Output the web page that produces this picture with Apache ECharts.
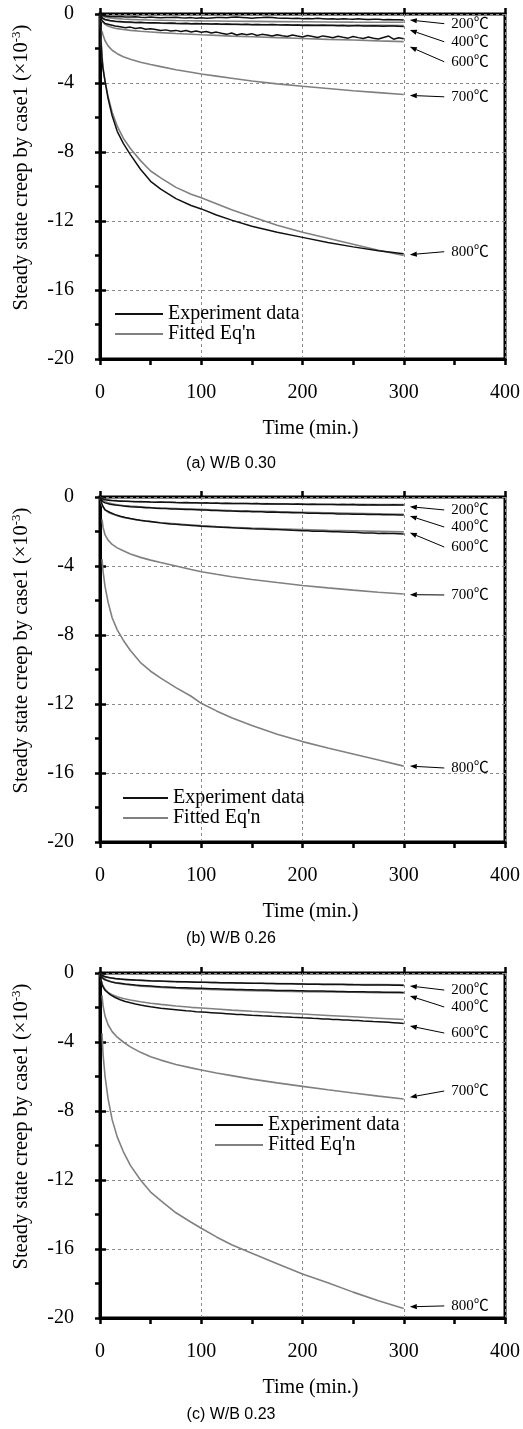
<!DOCTYPE html>
<html><head><meta charset="utf-8">
<script src="https://cdn.jsdelivr.net/npm/echarts@6/dist/echarts.min.js"></script>
<style>html,body{margin:0;padding:0;background:#fff}#c{width:523px;height:1429px}</style>
</head><body><div id="c"></div>
<script>
// time axis for fitted curves and smooth experimental curves
const T = [0,1,2,3,5,8,12,17,23,30,40,50,60,75,90,100,115,130,150,175,200,225,250,275,300];
// time axis for noisy experimental curves (rows of 8)
const TE = [0,1,2,3,5,10,15,20,
  25,30,35,40,45,50,55,60,
  65,70,75,80,85,90,95,100,
  105,110,115,120,125,130,135,140,
  145,150,155,160,165,170,175,180,
  185,190,195,200,205,210,215,220,
  225,230,235,240,245,250,255,260,
  265,270,275,280,285,290,295,300];

const xTicks = [0,100,200,300,400];
const yTicks = [0,-4,-8,-12,-16,-20];
const captions = ['(a) W/B 0.30','(b) W/B 0.26','(c) W/B 0.23'];
const tempLabels = ['200℃','400℃','600℃','700℃','800℃'];

// ---------- (a) W/B 0.30 ----------
const a200e = [0,-0.05,-0.08,-0.1,-0.12,-0.15,-0.16,-0.14,
  -0.17,-0.18,-0.16,-0.19,-0.2,-0.18,-0.2,-0.22,
  -0.2,-0.21,-0.19,-0.22,-0.23,-0.21,-0.24,-0.22,
  -0.25,-0.23,-0.21,-0.2,-0.22,-0.19,-0.18,-0.2,
  -0.22,-0.24,-0.22,-0.21,-0.19,-0.2,-0.23,-0.25,
  -0.24,-0.26,-0.25,-0.27,-0.26,-0.28,-0.25,-0.27,
  -0.29,-0.28,-0.3,-0.27,-0.29,-0.3,-0.28,-0.3,
  -0.32,-0.3,-0.31,-0.33,-0.32,-0.34,-0.33,-0.35];
const a400e = [0,-0.12,-0.2,-0.26,-0.32,-0.38,-0.42,-0.44,
  -0.46,-0.47,-0.49,-0.48,-0.5,-0.51,-0.5,-0.52,
  -0.53,-0.52,-0.54,-0.55,-0.53,-0.56,-0.55,-0.57,
  -0.56,-0.58,-0.57,-0.59,-0.58,-0.6,-0.59,-0.61,
  -0.6,-0.62,-0.61,-0.63,-0.62,-0.61,-0.63,-0.64,
  -0.63,-0.65,-0.64,-0.66,-0.65,-0.67,-0.66,-0.65,
  -0.67,-0.66,-0.68,-0.67,-0.69,-0.68,-0.67,-0.69,
  -0.7,-0.68,-0.69,-0.71,-0.7,-0.69,-0.71,-0.72];
const a600e = [0,-0.25,-0.38,-0.45,-0.55,-0.62,-0.7,-0.74,
  -0.8,-0.76,-0.84,-0.8,-0.88,-0.85,-0.9,-0.96,
  -0.92,-0.98,-0.95,-1.02,-0.96,-1.04,-0.99,-1.06,
  -1.02,-1.1,-1.05,-1.12,-1.18,-1.1,-1.22,-1.15,
  -1.2,-1.14,-1.25,-1.18,-1.22,-1.28,-1.2,-1.26,
  -1.3,-1.22,-1.28,-1.33,-1.25,-1.3,-1.36,-1.27,
  -1.32,-1.38,-1.29,-1.35,-1.4,-1.3,-1.37,-1.42,
  -1.33,-1.4,-1.45,-1.36,-1.28,-1.46,-1.38,-1.44];
const a800e = [0,-1.6,-2.6,-3.2,-3.9,-4.9,-5.9,-6.8,-7.5,-8.15,-9.0,-9.7,-10.15,-10.7,-11.1,-11.3,-11.65,-11.95,-12.3,-12.65,-12.95,-13.25,-13.5,-13.72,-13.9];
const a200f = [0,-0.08,-0.12,-0.15,-0.18,-0.21,-0.24,-0.27,-0.29,-0.31,-0.33,-0.35,-0.36,-0.38,-0.39,-0.4,-0.41,-0.42,-0.43,-0.44,-0.45,-0.46,-0.47,-0.475,-0.48];
const a400f = [0,-0.15,-0.22,-0.27,-0.33,-0.38,-0.42,-0.45,-0.47,-0.49,-0.51,-0.53,-0.54,-0.56,-0.57,-0.58,-0.59,-0.6,-0.61,-0.62,-0.63,-0.64,-0.65,-0.66,-0.67];
const a600f = [0,-0.3,-0.42,-0.5,-0.6,-0.7,-0.78,-0.85,-0.9,-0.95,-1.0,-1.04,-1.08,-1.13,-1.17,-1.2,-1.24,-1.28,-1.32,-1.37,-1.42,-1.47,-1.51,-1.56,-1.6];
const a700f = [null,null,-1.0,-1.22,-1.55,-1.85,-2.1,-2.3,-2.48,-2.62,-2.8,-2.93,-3.05,-3.23,-3.38,-3.48,-3.6,-3.72,-3.88,-4.05,-4.19,-4.32,-4.45,-4.56,-4.67];
const a800f = [0,-1.4,-2.4,-3.1,-3.9,-4.8,-5.7,-6.5,-7.2,-7.8,-8.5,-9.1,-9.5,-10.05,-10.45,-10.65,-11.0,-11.35,-11.75,-12.25,-12.65,-13.0,-13.35,-13.7,-14.0];
// annotation: label level, arrow target level
const aLabelY = [-0.56,-1.61,-2.77,-4.8,-13.78];
const aTargetY = [-0.35,-0.93,-1.9,-4.72,-13.95];

// ---------- (b) W/B 0.26 ----------
const b200e = [0,-0.06,-0.1,-0.13,-0.16,-0.2,-0.22,-0.24,
  -0.25,-0.26,-0.27,-0.28,-0.27,-0.29,-0.3,-0.29,
  -0.31,-0.3,-0.32,-0.33,-0.32,-0.34,-0.33,-0.35,
  -0.34,-0.36,-0.35,-0.37,-0.36,-0.37,-0.38,-0.37,
  -0.38,-0.39,-0.38,-0.4,-0.39,-0.4,-0.41,-0.4,
  -0.41,-0.42,-0.41,-0.42,-0.43,-0.42,-0.43,-0.44,
  -0.43,-0.44,-0.45,-0.44,-0.45,-0.44,-0.46,-0.45,
  -0.46,-0.45,-0.46,-0.47,-0.46,-0.45,-0.47,-0.46];
const b400e = [0,-0.14,-0.22,-0.28,-0.34,-0.42,-0.47,-0.5,
  -0.53,-0.56,-0.58,-0.6,-0.62,-0.63,-0.65,-0.66,
  -0.67,-0.69,-0.7,-0.71,-0.73,-0.73,-0.74,-0.76,
  -0.76,-0.78,-0.78,-0.79,-0.81,-0.81,-0.82,-0.84,
  -0.83,-0.85,-0.85,-0.86,-0.88,-0.87,-0.88,-0.9,
  -0.9,-0.91,-0.92,-0.92,-0.94,-0.94,-0.94,-0.96,
  -0.96,-0.96,-0.98,-0.98,-0.98,-1.0,-1.0,-1.0,
  -1.02,-1.01,-1.02,-1.03,-1.03,-1.03,-1.05,-1.04];
const b600e = [0,-0.25,-0.4,-0.55,-0.75,-0.9,-1.02,-1.12,
  -1.19,-1.25,-1.3,-1.35,-1.39,-1.42,-1.46,-1.5,
  -1.53,-1.56,-1.58,-1.61,-1.63,-1.65,-1.67,-1.7,
  -1.71,-1.73,-1.74,-1.76,-1.77,-1.78,-1.8,-1.81,
  -1.82,-1.84,-1.85,-1.86,-1.87,-1.89,-1.89,-1.9,
  -1.91,-1.93,-1.94,-1.95,-1.96,-1.98,-1.98,-1.99,
  -2.0,-2.02,-2.02,-2.03,-2.05,-2.05,-2.06,-2.08,
  -2.08,-2.09,-2.11,-2.1,-2.12,-2.12,-2.13,-2.15];
const b200f = [0,-0.05,-0.08,-0.1,-0.13,-0.16,-0.19,-0.21,-0.23,-0.25,-0.27,-0.29,-0.3,-0.32,-0.34,-0.35,-0.36,-0.37,-0.38,-0.4,-0.41,-0.42,-0.43,-0.44,-0.44];
const b400f = [0,-0.1,-0.16,-0.2,-0.27,-0.34,-0.4,-0.45,-0.49,-0.53,-0.57,-0.61,-0.64,-0.67,-0.7,-0.72,-0.75,-0.78,-0.81,-0.85,-0.88,-0.91,-0.94,-0.97,-1.0];
const b600f = [0,-0.3,-0.5,-0.6,-0.75,-0.88,-0.99,-1.09,-1.18,-1.26,-1.36,-1.43,-1.49,-1.56,-1.62,-1.66,-1.71,-1.75,-1.8,-1.85,-1.89,-1.93,-1.96,-1.99,-2.02];
const b700f = [null,null,-1.3,-1.75,-2.2,-2.5,-2.75,-2.95,-3.12,-3.3,-3.5,-3.66,-3.8,-4.0,-4.2,-4.33,-4.48,-4.62,-4.78,-4.96,-5.13,-5.27,-5.4,-5.52,-5.62];
const b800f = [null,null,-3.6,-4.3,-5.2,-6.1,-7.0,-7.7,-8.3,-8.9,-9.6,-10.1,-10.5,-11.05,-11.55,-11.96,-12.4,-12.8,-13.25,-13.75,-14.18,-14.55,-14.9,-15.25,-15.6];
const bLabelY = [-0.75,-1.74,-2.9,-5.68,-15.71];
const bTargetY = [-0.56,-1.1,-2.07,-5.66,-15.6];

// ---------- (c) W/B 0.23 ----------
const c200e = [0,-0.08,-0.13,-0.17,-0.22,-0.28,-0.32,-0.35,
  -0.37,-0.39,-0.41,-0.42,-0.43,-0.45,-0.46,-0.47,
  -0.48,-0.49,-0.5,-0.5,-0.51,-0.52,-0.53,-0.53,
  -0.54,-0.55,-0.55,-0.56,-0.57,-0.57,-0.58,-0.58,
  -0.59,-0.59,-0.6,-0.6,-0.61,-0.61,-0.62,-0.62,
  -0.63,-0.63,-0.64,-0.64,-0.65,-0.65,-0.65,-0.66,
  -0.66,-0.67,-0.67,-0.67,-0.68,-0.68,-0.68,-0.69,
  -0.69,-0.69,-0.7,-0.7,-0.7,-0.71,-0.71,-0.72];
const c400e = [0,-0.15,-0.25,-0.32,-0.4,-0.5,-0.56,-0.6,
  -0.64,-0.67,-0.7,-0.72,-0.74,-0.76,-0.78,-0.8,
  -0.81,-0.82,-0.84,-0.85,-0.86,-0.87,-0.88,-0.89,
  -0.9,-0.91,-0.92,-0.93,-0.94,-0.94,-0.95,-0.96,
  -0.97,-0.97,-0.98,-0.99,-0.99,-1.0,-1.01,-1.01,
  -1.02,-1.02,-1.03,-1.03,-1.04,-1.04,-1.05,-1.05,
  -1.06,-1.06,-1.07,-1.07,-1.08,-1.08,-1.09,-1.09,
  -1.1,-1.1,-1.1,-1.11,-1.11,-1.12,-1.12,-1.13];
const c600e = [0,-0.4,-0.65,-0.8,-1.0,-1.25,-1.42,-1.55,
  -1.65,-1.73,-1.8,-1.86,-1.91,-1.96,-2.0,-2.04,
  -2.07,-2.1,-2.13,-2.16,-2.19,-2.21,-2.24,-2.26,
  -2.28,-2.3,-2.32,-2.34,-2.36,-2.38,-2.4,-2.41,
  -2.43,-2.45,-2.46,-2.48,-2.49,-2.51,-2.52,-2.54,
  -2.55,-2.57,-2.58,-2.6,-2.61,-2.63,-2.64,-2.66,
  -2.67,-2.69,-2.7,-2.72,-2.73,-2.75,-2.76,-2.78,
  -2.79,-2.81,-2.82,-2.84,-2.86,-2.88,-2.9,-2.93];
const c200f = [0,-0.08,-0.12,-0.16,-0.21,-0.26,-0.3,-0.34,-0.37,-0.4,-0.43,-0.46,-0.48,-0.5,-0.52,-0.54,-0.56,-0.57,-0.59,-0.61,-0.63,-0.64,-0.66,-0.67,-0.68];
const c400f = [0,-0.12,-0.2,-0.26,-0.35,-0.44,-0.52,-0.59,-0.65,-0.7,-0.76,-0.8,-0.84,-0.88,-0.92,-0.94,-0.97,-0.99,-1.02,-1.05,-1.08,-1.1,-1.12,-1.14,-1.16];
const c600f = [0,-0.4,-0.6,-0.75,-0.95,-1.12,-1.26,-1.38,-1.48,-1.57,-1.67,-1.75,-1.82,-1.91,-1.99,-2.03,-2.09,-2.15,-2.22,-2.3,-2.38,-2.46,-2.54,-2.62,-2.7];
const c700f = [null,null,-1.3,-1.9,-2.5,-3.0,-3.4,-3.72,-4.0,-4.28,-4.6,-4.85,-5.05,-5.3,-5.5,-5.62,-5.8,-5.95,-6.15,-6.37,-6.57,-6.77,-6.96,-7.14,-7.3];
const c800f = [null,null,-3.5,-4.7,-6.0,-7.3,-8.5,-9.5,-10.35,-11.15,-12.0,-12.7,-13.2,-13.9,-14.45,-14.8,-15.3,-15.75,-16.25,-16.85,-17.45,-17.95,-18.5,-19.0,-19.45];
const cLabelY = [-0.99,-1.97,-3.48,-6.84,-19.3];
const cTargetY = [-0.75,-1.33,-3.07,-7.2,-19.35];

// annotation x positions (data units)
const arrowStartX = 340, arrowEndX = 306, labelX = 347;

const EXP = 'Experiment data', FIT = "Fitted Eq'n";
const SERIF = "'Liberation Serif','Times New Roman',serif";
const panels = [
  {top:14, exp:[[TE,a200e],[TE,a400e],[TE,a600e],[T,a800e]], fit:[a200f,a400f,a600f,a700f,a800f], ly:aLabelY, ty:aTargetY, legend:{left:115, top:304, w:48}},
  {top:497, exp:[[TE,b200e],[TE,b400e],[TE,b600e]], fit:[b200f,b400f,b600f,b700f,b800f], ly:bLabelY, ty:bTargetY, legend:{left:123, top:788, w:45}},
  {top:973, exp:[[TE,c200e],[TE,c400e],[TE,c600e]], fit:[c200f,c400f,c600f,c700f,c800f], ly:cLabelY, ty:cTargetY, legend:{left:215, top:1115, w:48}}
];
const PH = 345;

function pairs(ts, vs){ return ts.map((t,i)=>[t, vs[i] === undefined ? null : vs[i]]); }

const grid=[], xAxis=[], yAxis=[], series=[], legend=[];
panels.forEach((p,g)=>{
  grid.push({left:100, width:406, top:p.top, height:PH, show:true, borderColor:'#000', borderWidth:3, containLabel:false});
});
panels.forEach((p,g)=>{
  xAxis.push({type:'value', gridIndex:g, min:xTicks[0], max:xTicks[xTicks.length-1], interval:100, position:'bottom',
    name:'Time (min.)', nameLocation:'middle', nameGap:60,
    nameTextStyle:{fontFamily:SERIF, fontSize:20, color:'#000', padding:[0,0,0,16]},
    axisLine:{show:true, onZero:false, lineStyle:{color:'#000', width:3}},
    axisTick:{show:true, inside:false, length:6, lineStyle:{color:'#000', width:2.5}},
    minorTick:{show:true, splitNumber:2, length:6, lineStyle:{color:'#000', width:2.5}},
    axisLabel:{margin:24, fontFamily:SERIF, fontSize:20, color:'#000'},
    splitLine:{show:true, lineStyle:{color:'#8a8a8a', width:1, type:[3,3]}}});
  yAxis.push({type:'value', gridIndex:g, min:yTicks[yTicks.length-1], max:yTicks[0], interval:4, position:'left',
    axisLine:{show:true, onZero:false, lineStyle:{color:'#000', width:3}},
    axisTick:{show:true, inside:false, length:5, lineStyle:{color:'#000', width:2.5}},
    minorTick:{show:true, splitNumber:2, length:5, lineStyle:{color:'#000', width:2.5}},
    axisLabel:{margin:26, fontFamily:SERIF, fontSize:20, color:'#000'},
    splitLine:{show:true, lineStyle:{color:'#8a8a8a', width:1, type:[3,3]}}});
});
// secondary axes: inward half of the major ticks
panels.forEach((p,g)=>{
  xAxis.push({type:'value', gridIndex:g, min:0, max:400, interval:100, position:'bottom', offset:0,
    axisLine:{show:false}, axisTick:{show:true, inside:true, length:6, lineStyle:{color:'#000', width:2.5}},
    axisLabel:{show:false}, splitLine:{show:false}});
  yAxis.push({type:'value', gridIndex:g, min:-20, max:0, interval:4, position:'left', offset:0,
    axisLine:{show:false}, axisTick:{show:true, inside:true, length:6, lineStyle:{color:'#000', width:2.5}},
    axisLabel:{show:false}, splitLine:{show:false}});
});
panels.forEach((p,g)=>{
  p.fit.forEach(arr=>{
    series.push({type:'line', name:FIT, xAxisIndex:g, yAxisIndex:g, data:pairs(T,arr), symbol:'none', smooth:false,
      lineStyle:{color:'#808080', width:1.6}, itemStyle:{color:'#808080'}, silent:true, z:2});
  });
  p.exp.forEach(([ts,arr])=>{
    series.push({type:'line', name:EXP, xAxisIndex:g, yAxisIndex:g, data:pairs(ts,arr), symbol:'none',
      lineStyle:{color:'#111', width:1.5}, itemStyle:{color:'#111'}, silent:true, z:3});
  });
  legend.push({left:p.legend.left, top:p.legend.top, orient:'vertical', itemWidth:p.legend.w, itemHeight:2, itemGap:0,
    selectedMode:false, padding:0,
    data:[{name:EXP, icon:'rect', itemStyle:{color:'#111'}}, {name:FIT, icon:'rect', itemStyle:{color:'#808080'}}],
    textStyle:{fontFamily:SERIF, fontSize:20, color:'#000', lineHeight:20}});
});

const chart = echarts.init(document.getElementById('c'), null, {renderer:'canvas'});
chart.setOption({animation:false, backgroundColor:'#fff', grid, xAxis, yAxis, series, legend});

// annotations and texts placed via the chart's own coordinate conversion
const graphic = [];
panels.forEach((p,g)=>{
  const conv = (x,y)=>chart.convertToPixel({xAxisIndex:g, yAxisIndex:g}, [x,y]);
  tempLabels.forEach((lab,k)=>{
    const s = conv(arrowStartX, p.ly[k]);
    const e = conv(arrowEndX, p.ty[k]);
    const l = conv(labelX, p.ly[k]);
    const dx = e[0]-s[0], dy = e[1]-s[1], len = Math.hypot(dx,dy);
    const ux = dx/len, uy = dy/len;
    const hl = 7, hw = 2.6;
    const bx = e[0]-ux*hl, by = e[1]-uy*hl;
    graphic.push({type:'line', shape:{x1:s[0], y1:s[1], x2:bx, y2:by}, style:{stroke:'#000', lineWidth:1}, silent:true, z:10});
    graphic.push({type:'polygon', shape:{points:[[e[0],e[1]],[bx-uy*hw, by+ux*hw],[bx+uy*hw, by-ux*hw]]}, style:{fill:'#000'}, silent:true, z:10});
    graphic.push({type:'text', x:l[0], y:l[1], style:{text:lab, font:"15px 'Liberation Serif', 'Noto Sans CJK SC', serif", fill:'#000', textAlign:'left', textVerticalAlign:'middle'}, silent:true, z:10});
  });
  // y-axis title
  const mid = chart.convertToPixel({yAxisIndex:g}, -8.9);
  graphic.push({type:'text', x:22, y:mid, rotation:Math.PI/2,
    style:{text:'{a|Steady state creep by case1 (×10}{s|-3}{a|)}', textAlign:'center', textVerticalAlign:'middle',
      rich:{a:{fontFamily:SERIF, fontSize:20.5, fill:'#000', color:'#000'}, s:{fontFamily:SERIF, fontSize:13, color:'#000', fill:'#000', padding:[0,0,10,0]}}},
    silent:true});
  // caption
  const bottom = chart.convertToPixel({yAxisIndex:g}, -20);
  graphic.push({type:'text', x:231, y:bottom + [105,97,97][g], style:{text:captions[g], font:"16px 'Liberation Sans', Arial, sans-serif", fill:'#000', textAlign:'center', textVerticalAlign:'middle'}, silent:true});
});
chart.setOption({graphic});
</script>
</body></html>
